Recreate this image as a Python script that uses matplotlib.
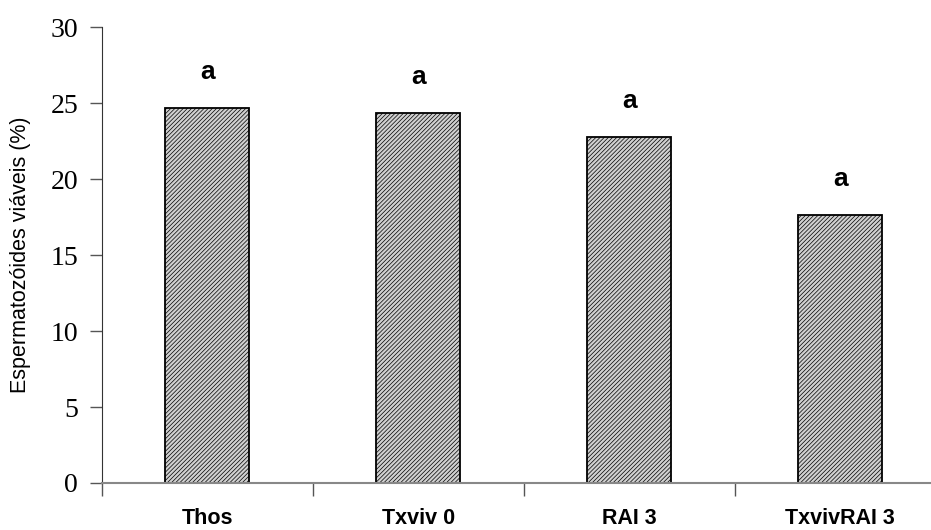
import matplotlib
matplotlib.use("Agg")
import matplotlib.pyplot as plt
import numpy as np

categories = ["Thos", "Txviv 0", "RAI 3", "TxvivRAI 3"]
values = [24.7, 24.35, 22.75, 17.65]
letters = ["a", "a", "a", "a"]
yticks = [0, 5, 10, 15, 20, 25, 30]

plt.rcParams['hatch.linewidth'] = 0.5
plt.rcParams['hatch.color'] = '#3a3a3a'

fig = plt.figure(figsize=(9.31, 5.30), dpi=100)
ax = fig.add_axes([0.1093, 0.0887, 0.9066, 0.860])

x = np.arange(len(categories))
ax.bar(x, values, width=0.4, color='#d0d0d0', edgecolor='black',
       linewidth=1.3, hatch='////////', zorder=2)
for xi, v, l in zip(x, values, letters):
    ax.text(xi, v + 2.37, l, ha='center', va='center', fontsize=19,
            fontweight='bold', family='Liberation Sans')

ax.set_xlim(-0.5, 3.5)
ax.set_ylim(0, 30)
ax.set_yticks(yticks)
ax.set_yticklabels([str(t) for t in yticks], family='Liberation Serif', fontsize=20)
ax.set_xticks(np.arange(-0.5, 4.0, 1.0), minor=False)
ax.set_xticklabels([])
ax.set_xticks(x, minor=True)
ax.set_xticklabels(categories, minor=True, family='Liberation Sans',
                   fontweight='bold', fontsize=15.5)
ax.tick_params(axis='x', which='minor', length=0, pad=18)
ax.tick_params(axis='x', which='major', length=9, width=1, color='#555555', direction='out')
ax.tick_params(axis='y', length=9, width=1, color='#555555', pad=8)

ax.spines['top'].set_visible(False)
ax.spines['right'].set_visible(False)
ax.spines['left'].set_color('#333333')
ax.spines['bottom'].set_color('#888888')
ax.spines['bottom'].set_linewidth(1.5)

ax.set_ylabel("Espermatozóides viáveis (%)", family='Liberation Sans',
              fontsize=15.5, labelpad=14)

fig.savefig("out.png", dpi=100)
